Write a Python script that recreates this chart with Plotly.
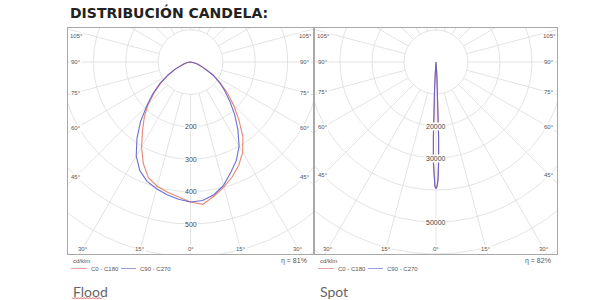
import numpy as np
import plotly.graph_objects as go

# ---------------- data ----------------
# angle from nadir (deg) and luminous intensity (cd/klm)
gamma = [0, 5, 10, 15, 20, 25, 30, 35, 40, 45, 50, 55, 60, 65, 70, 75, 80, 85, 90]
flood_c0 = [432, 441, 420, 399, 377, 352, 322, 282, 232, 188, 148, 112, 80, 52, 33, 20, 10, 4, 0]
flood_c180 = [432, 417, 408, 397, 380, 345, 302, 258, 222, 185, 145, 110, 78, 52, 33, 20, 10, 4, 0]
flood_c90 = [432, 429, 416, 394, 363, 335, 300, 255, 212, 172, 138, 108, 80, 52, 33, 20, 10, 4, 0]
flood_c270 = [432, 425, 416, 405, 392, 370, 335, 288, 240, 190, 152, 115, 80, 52, 33, 20, 10, 4, 0]

spot_gamma = [0, 0.5, 1, 1.5, 2, 2.5, 3, 3.5, 4, 5, 6, 8, 10, 90]
spot_c0 = [39300, 38700, 36400, 30800, 22800, 14800, 8400, 4400, 2000, 600, 150, 0, 0, 0]
spot_c180 = [39300, 38700, 36400, 30800, 22800, 14800, 8400, 4400, 2000, 600, 150, 0, 0, 0]
spot_c90 = [39600, 39000, 36800, 31400, 23400, 15200, 8600, 4500, 2000, 600, 150, 0, 0, 0]
spot_c270 = [39600, 39000, 36800, 31400, 23400, 15200, 8600, 4500, 2000, 600, 150, 0, 0, 0]

flood_rings = [100, 200, 300, 400, 500, 600, 700, 800]
flood_ring_labels = [200, 300, 400, 500]
spot_rings = [10000, 20000, 30000, 40000, 50000, 60000, 70000, 80000]
spot_ring_labels = [20000, 30000, 50000]
spoke_angles = list(range(0, 360, 15))
side_ticks = [105, 90, 75, 60, 45]
bottom_ticks = [-30, -15, 0, 15, 30]
series_names = ["C0 - C180", "C90 - C270"]
series_colors = ["#e57a62", "#5f5fcf"]
legend_colors = ["#eaa0a0", "#9c9cd6"]
efficiency = ["\u03b7 = 81%", "\u03b7 = 82%"]
panel_names = ["Flood", "Spot"]
unit_label = "cd/klm"
title = "DISTRIBUCIÓN CANDELA:"

# ---------------- layout geometry (pixels) ----------------
W, H = 600, 300
panels = [
    dict(x0=68, x1=313, y0=28, y1=254, cx=190.5, cy=62, k=0.324,
         rings=flood_rings, ring_labels=flood_ring_labels,
         planes=[(flood_c180, flood_c0), (flood_c270, flood_c90)], g=gamma),
    dict(x0=315, x1=557, y0=28, y1=254, cx=436, cy=62, k=0.0032,
         rings=spot_rings, ring_labels=spot_ring_labels,
         planes=[(spot_c180, spot_c0), (spot_c270, spot_c90)], g=spot_gamma),
]


def px(x):
    return x / W


def py(y):
    return 1 - y / H


fig = go.Figure()
annotations = []
shapes = []
grid_col = "#dcdcdc"
lab_col = "#555555"


def note(x, y, text, size, xanchor="center", color=lab_col, family="Liberation Sans"):
    return dict(x=px(x), y=py(y), xref="paper", yref="paper", text=text, showarrow=False,
                xanchor=xanchor, yanchor="middle",
                font=dict(family=family, size=size, color=color))


for i, p in enumerate(panels):
    ax = "" if i == 0 else str(i + 1)
    xa, ya = "x" + ax, "y" + ax
    k = p["k"]
    xmin, xmax = (p["x0"] - p["cx"]) / k, (p["x1"] - p["cx"]) / k
    ymin, ymax = -(p["y1"] - p["cy"]) / k, (p["cy"] - p["y0"]) / k
    rin, rout = p["rings"][0], p["rings"][-1]

    # rings
    t = np.linspace(0, 2 * np.pi, 361)
    gx, gy = [], []
    for r in p["rings"]:
        gx += list(r * np.sin(t)) + [None]
        gy += list(-r * np.cos(t)) + [None]
    # spokes
    for a in spoke_angles:
        ar = np.radians(a)
        gx += [rin * np.sin(ar), rout * np.sin(ar), None]
        gy += [-rin * np.cos(ar), -rout * np.cos(ar), None]
    fig.add_trace(go.Scatter(x=gx, y=gy, mode="lines", xaxis=xa, yaxis=ya,
                             line=dict(color=grid_col, width=0.8),
                             hoverinfo="skip", showlegend=False))

    # intensity curves
    for j, (left, right) in enumerate(p["planes"]):
        g = np.array(p["g"], dtype=float)
        ang = np.concatenate([-g[::-1], g[1:]])
        rr = np.concatenate([np.array(left[::-1], float), np.array(right[1:], float)])
        ar = np.radians(ang)
        fig.add_trace(go.Scatter(x=rr * np.sin(ar), y=-rr * np.cos(ar), mode="lines",
                                 xaxis=xa, yaxis=ya, name=series_names[j],
                                 line=dict(color=series_colors[j], width=1.1),
                                 opacity=0.9, showlegend=False))

    # axes / border
    common = dict(showgrid=False, zeroline=False, showticklabels=False, ticks="",
                  showline=True, mirror=True, linecolor="#a8a8a8", linewidth=1,
                  fixedrange=True)
    fig.update_layout(**{
        "xaxis" + ax: dict(domain=[px(p["x0"]), px(p["x1"])], range=[xmin, xmax],
                           anchor=ya, **common),
        "yaxis" + ax: dict(domain=[py(p["y1"]), py(p["y0"])], range=[ymin, ymax],
                           anchor=xa, **common),
    })

    # radial labels
    for r in p["ring_labels"]:
        annotations.append(dict(x=0, y=-r, xref=xa, yref=ya, text=str(r), showarrow=False,
                                font=dict(family="Liberation Sans", size=7, color="#444444"),
                                bgcolor="white", borderpad=0))

    # side angle labels
    inset = 8 / k
    for a in side_ticks:
        ar = np.radians(a)
        for sgn in (-1, 1):
            xl = sgn * (xmax - inset)
            tt = abs(xl) / np.sin(ar)
            yl = -tt * np.cos(ar)
            yl = min(yl, ymax - 8 / k)
            annotations.append(dict(x=xl, y=yl, xref=xa, yref=ya, text=f"{a}°",
                                    showarrow=False, bgcolor="white", borderpad=0,
                                    font=dict(family="Liberation Sans", size=6, color=lab_col)))
    # bottom angle labels
    yb = ymin + 5 / k
    for a in bottom_ticks:
        ar = np.radians(a)
        xl = -yb * np.tan(ar)
        xl = max(min(xl, xmax - inset), xmin + inset)
        annotations.append(dict(x=xl, y=yb, xref=xa, yref=ya, text=f"{abs(a)}°",
                                showarrow=False, bgcolor="white", borderpad=0,
                                font=dict(family="Liberation Sans", size=6, color=lab_col)))

    # unit label, legend, efficiency
    lx = p["x0"] + 3
    annotations.append(note(lx, 261, unit_label, 6, "left"))
    seg = [(lx, lx + 16), (lx + 50, lx + 65)]
    for j in range(2):
        shapes.append(dict(type="line", xref="paper", yref="paper",
                           x0=px(seg[j][0]), x1=px(seg[j][1]), y0=py(268.5), y1=py(268.5),
                           line=dict(color=legend_colors[j], width=1)))
        annotations.append(note(seg[j][1] + 2, 268.5, series_names[j], 6, "left"))
    annotations.append(note(p["x1"] - 4, 261, efficiency[i], 7, "right"))
    # panel name
    annotations.append(note(p["x0"] + 3, 291, panel_names[i], 14, "left",
                            color="#666666", family="Lato"))

# spell-check squiggle under "Flood"
zz = [f"{px(x):.5f},{py(298 + (1 if n % 2 else -0.5)):.5f}" for n, x in
      enumerate(np.arange(72, 103, 1.5))]
shapes.append(dict(type="path", xref="paper", yref="paper", path="M " + " L ".join(zz),
                   line=dict(color="#e04040", width=0.8)))

# title
annotations.append(dict(x=px(68), y=py(2), xref="paper", yref="paper", text=title,
                        showarrow=False, xanchor="left", yanchor="top",
                        font=dict(family="DejaVu Sans", size=14, color="#222222", weight="bold")))

fig.update_layout(width=W, height=H, margin=dict(l=0, r=0, t=0, b=0),
                  paper_bgcolor="white", plot_bgcolor="white",
                  annotations=annotations, shapes=shapes, showlegend=False)

fig.write_html("out.html")
